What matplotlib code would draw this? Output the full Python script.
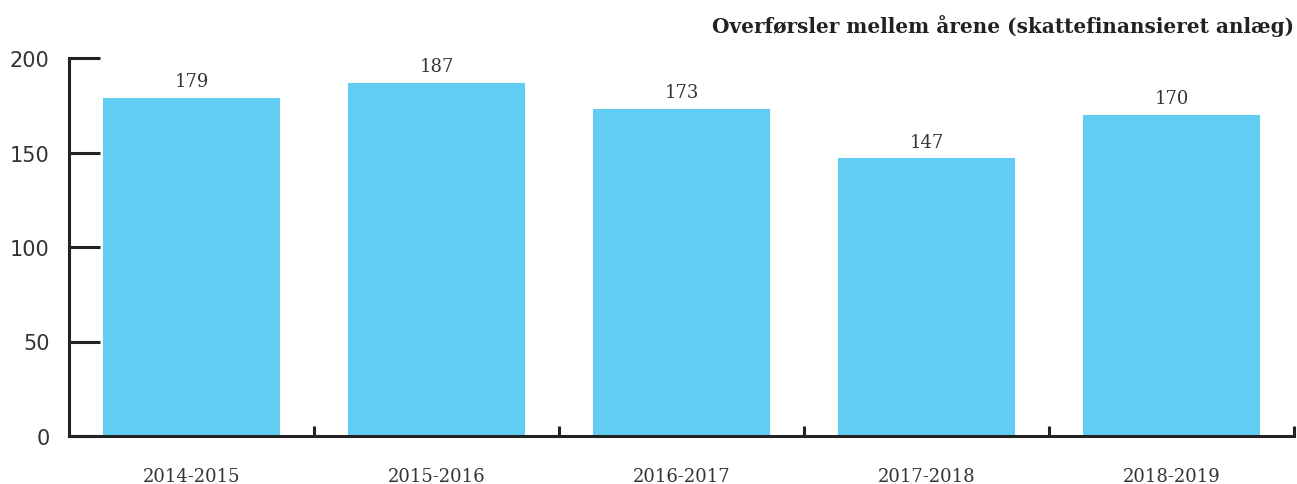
import matplotlib
matplotlib.use("Agg")
import matplotlib.pyplot as plt
import numpy as np

# data
periods = ["2014-2015", "2015-2016", "2016-2017", "2017-2018", "2018-2019"]
transfers = [179, 187, 173, 147, 170]
yticks = [0, 50, 100, 150, 200]
title = "Overførsler mellem årene (skattefinansieret anlæg)"

bar_color = "#62cdf2"
ink = "#222222"
txt = "#333333"

fig = plt.figure(figsize=(12.97, 4.85), dpi=100)
ax = fig.add_axes([69/1297, 48/485, 1225/1297, 378/485])

x = np.arange(len(periods))
bars = ax.bar(x, transfers, width=0.72, color=bar_color, zorder=1)
for b, v in zip(bars, transfers):
    ax.text(b.get_x() + b.get_width()/2, v + 4, str(v), ha="center", va="bottom",
            fontsize=13, color=txt, family="DejaVu Serif")

ax.set_xlim(-0.5, len(periods) - 0.5)
ax.set_ylim(0, 200)

for s in ["top", "right"]:
    ax.spines[s].set_visible(False)
for s in ["left", "bottom"]:
    ax.spines[s].set_linewidth(2.2)
    ax.spines[s].set_color(ink)
    ax.spines[s].set_zorder(3)

ax.set_yticks(yticks)
ax.set_yticklabels([str(t) for t in yticks], family="DejaVu Sans", fontsize=15, color=txt)
ax.tick_params(axis="y", direction="in", length=22, width=2.2, color=ink, pad=14)

ax.set_xticks(x)
ax.set_xticklabels(periods, family="DejaVu Serif", fontsize=13, color=txt)
ax.tick_params(axis="x", which="major", length=0, pad=22)
ax.set_xticks(np.arange(len(periods)) + 0.5, minor=True)
ax.tick_params(axis="x", which="minor", direction="in", length=7, width=2.2, color=ink)

fig.text(1294/1297, 1 - 26/485, title, ha="right", va="center", fontsize=14.4,
         fontweight="bold", color=ink, family="DejaVu Serif")

fig.savefig("out.png", dpi=100)
